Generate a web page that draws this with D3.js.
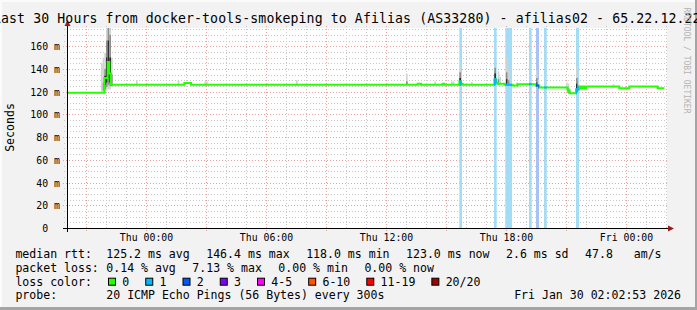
<!DOCTYPE html>
<html>
<head>
<meta charset="utf-8">
<script src="https://cdn.jsdelivr.net/npm/d3@7"></script>
<style>
body { margin:0; background:#f2f2f2; }
svg { display:block; font-family:"DejaVu Sans Mono", monospace; }
.pre { white-space:pre; }
</style>
</head>
<body>
<svg id="chart" width="697" height="310"></svg>
<script>
// ---- data ----
var title = "Last 30 Hours from docker-tools-smokeping to Afilias (AS33280) - afilias02 - 65.22.12.22";
var timeStart = "2026-01-28 20:03";
var timeEnd = "2026-01-30 02:03";
var yMax = 176;
var yTicks = [0, 20, 40, 60, 80, 100, 120, 140, 160];
var yLabel = "Seconds";

// median rtt (ms), step values
var median = [
  ["2026-01-28 20:03", 119],
  ["2026-01-28 21:55", 132],
  ["2026-01-28 22:05", 146],
  ["2026-01-28 22:10", 136],
  ["2026-01-28 22:15", 126],
  ["2026-01-29 01:55", 127.5],
  ["2026-01-29 02:15", 126],
  ["2026-01-29 13:35", 127],
  ["2026-01-29 13:45", 126],
  ["2026-01-29 14:50", 127],
  ["2026-01-29 14:55", 126],
  ["2026-01-29 15:40", 129],
  ["2026-01-29 15:45", 127],
  ["2026-01-29 15:50", 126],
  ["2026-01-29 17:25", 131],
  ["2026-01-29 17:30", 128],
  ["2026-01-29 17:35", 127],
  ["2026-01-29 17:55", 126],
  ["2026-01-29 18:20", 125.4],
  ["2026-01-29 18:35", 126.5],
  ["2026-01-29 19:30", 125.5],
  ["2026-01-29 19:40", 123.6],
  ["2026-01-29 21:05", 121],
  ["2026-01-29 21:10", 118.6],
  ["2026-01-29 21:30", 122.2],
  ["2026-01-29 21:40", 124.5],
  ["2026-01-29 21:45", 123],
  ["2026-01-29 21:50", 124.5],
  ["2026-01-29 21:55", 123],
  ["2026-01-29 22:00", 124.5],
  ["2026-01-29 23:40", 123],
  ["2026-01-30 00:10", 124.5],
  ["2026-01-30 01:35", 123],
  ["2026-01-30 01:55", 123]
];

// samples with packet loss: from, to, lost pings
var lossBands = [
  ["2026-01-29 15:40", "2026-01-29 15:48", 1],
  ["2026-01-29 17:24", "2026-01-29 17:32", 1],
  ["2026-01-29 17:58", "2026-01-29 18:18", 1],
  ["2026-01-29 19:09", "2026-01-29 19:17", 1],
  ["2026-01-29 19:30", "2026-01-29 19:39", 2],
  ["2026-01-29 19:54", "2026-01-29 20:02", 1],
  ["2026-01-29 21:30", "2026-01-29 21:39", 1]
];

// smoke: sample time, then [low, high] ranges from outer to inner
var smoke = [
  ["2026-01-28 21:45", [120, 145]],
  ["2026-01-28 21:50", [120, 150], [121, 128]],
  ["2026-01-28 21:55", [120, 154], [122, 140], [126, 134]],
  ["2026-01-28 22:00", [121, 190], [124, 165], [128, 150]],
  ["2026-01-28 22:05", [122, 190], [126, 176], [132, 165]],
  ["2026-01-28 22:10", [122, 190], [125, 170], [128, 150]],
  ["2026-01-28 22:15", [124, 150], [125, 135]],
  ["2026-01-28 23:30", [126, 130]],
  ["2026-01-29 01:35", [126, 130]],
  ["2026-01-29 02:55", [126, 129]],
  ["2026-01-29 03:00", [126, 129]],
  ["2026-01-29 07:30", [126, 130]],
  ["2026-01-29 13:00", [126, 136], [126, 129]],
  ["2026-01-29 14:25", [126, 129]],
  ["2026-01-29 15:15", [126, 129]],
  ["2026-01-29 15:20", [126, 129]],
  ["2026-01-29 15:40", [124, 140], [125, 137], [126, 132]],
  ["2026-01-29 16:15", [126, 128.5]],
  ["2026-01-29 17:25", [125, 142], [126, 141], [127, 136]],
  ["2026-01-29 17:35", [126, 138], [126, 131]],
  ["2026-01-29 17:40", [126, 133]],
  ["2026-01-29 18:00", [125, 150], [125, 137], [126, 131]],
  ["2026-01-29 18:05", [125, 140], [125, 130]],
  ["2026-01-29 18:30", [125, 128]],
  ["2026-01-29 19:30", [124, 139], [124, 132], [124.5, 128]],
  ["2026-01-29 19:35", [123.6, 130]],
  ["2026-01-29 21:00", [121, 128]],
  ["2026-01-29 21:05", [119, 127], [119, 123]],
  ["2026-01-29 21:10", [118, 122], [118.4, 120]],
  ["2026-01-29 21:30", [118, 142], [119, 132], [120, 127]],
  ["2026-01-29 21:35", [120, 127], [121, 125]],
  ["2026-01-29 23:20", [124.5, 126.5]]
];

var lossLabels = ["0", "1", "2", "3", "4-5", "6-10", "11-19", "20/20"];
var lossColors = ["#26ff00", "#00b8ff", "#0059ff", "#7e00ff", "#ff00ff", "#ff5500", "#ff0000", "#a10000"];
var lossBg = {1: "#a3dcf5", 2: "#a8c2f7"};

var statsRtt = ["125.2 ms avg", "146.4 ms max", "118.0 ms min", "123.0 ms now", "2.6 ms sd", "47.8   am/s"];
var statsLoss = ["0.14 % avg", "7.13 % max", "0.00 % min", "0.00 % now"];
var probeText = "20 ICMP Echo Pings (56 Bytes) every 300s";
var stamp = "Fri Jan 30 02:02:53 2026";
var watermark = "RRDTOOL / TOBI OETIKER";

// ---- drawing ----
var parse = d3.timeParse("%Y-%m-%d %H:%M");
var FIVE = 5 * 60 * 1000;
var W = 697, H = 310;
var pL = 67, pR = 667, pT = 28, pB = 228;

var svg = d3.select("#chart");

var x = d3.scaleTime().domain([parse(timeStart), parse(timeEnd)]).range([pL, pR]);
var y = d3.scaleLinear().domain([0, yMax]).range([pB, pT]);

// background + frame
svg.append("rect").attr("width", W).attr("height", H).attr("fill", "#f2f2f2");
svg.append("rect").attr("x", 0).attr("y", 0).attr("width", W).attr("height", 2).attr("fill", "#fbfbfb");
svg.append("rect").attr("x", 0).attr("y", 0).attr("width", 2).attr("height", H).attr("fill", "#fbfbfb");
svg.append("rect").attr("x", W - 2).attr("y", 0).attr("width", 2).attr("height", H).attr("fill", "#a4a4a4");
svg.append("rect").attr("x", 0).attr("y", H - 3).attr("width", W).attr("height", 3).attr("fill", "#a4a4a4");

svg.append("rect").attr("x", pL).attr("y", pT).attr("width", pR - pL).attr("height", pB - pT).attr("fill", "#fff");

svg.append("clipPath").attr("id", "plotclip")
  .append("rect").attr("x", pL).attr("y", pT).attr("width", pR - pL).attr("height", pB - pT);

// grid
var grid = svg.append("g").attr("shape-rendering", "crispEdges");
var hourTicks = x.ticks(d3.timeHour.every(1));
grid.selectAll(".vmin").data(hourTicks.filter(function(d) { return d.getHours() % 3 != 0; }))
  .enter().append("line")
  .attr("x1", function(d) { return Math.round(x(d)) + 0.5; })
  .attr("x2", function(d) { return Math.round(x(d)) + 0.5; })
  .attr("y1", pT - 2).attr("y2", pB)
  .attr("stroke", "#c8c8c8").attr("stroke-dasharray", "1,2");
var minorY = d3.range(5, yMax, 5).filter(function(d) { return d % 20 != 0; });
grid.selectAll(".hmin").data(minorY)
  .enter().append("line")
  .attr("x1", pL - 3).attr("x2", pR)
  .attr("y1", function(d) { return Math.round(y(d)) + 0.5; })
  .attr("y2", function(d) { return Math.round(y(d)) + 0.5; })
  .attr("stroke", "#c8c8c8").attr("stroke-dasharray", "1,2");
grid.selectAll(".vmaj").data(x.ticks(d3.timeHour.every(3)))
  .enter().append("line")
  .attr("x1", function(d) { return Math.round(x(d)) + 0.5; })
  .attr("x2", function(d) { return Math.round(x(d)) + 0.5; })
  .attr("y1", pT - 2).attr("y2", pB + 3)
  .attr("stroke", "#e9a2a2").attr("stroke-dasharray", "1,2");
grid.selectAll(".hmaj").data(yTicks.filter(function(d) { return d > 0; }))
  .enter().append("line")
  .attr("x1", pL - 4).attr("x2", pR)
  .attr("y1", function(d) { return Math.round(y(d)) + 0.5; })
  .attr("y2", function(d) { return Math.round(y(d)) + 0.5; })
  .attr("stroke", "#e9a2a2").attr("stroke-dasharray", "1,2");

var plot = svg.append("g").attr("clip-path", "url(#plotclip)");

// loss backgrounds
plot.selectAll(".lossbg").data(lossBands)
  .enter().append("rect")
  .attr("x", function(d) { return x(parse(d[0])); })
  .attr("width", function(d) { return x(parse(d[1])) - x(parse(d[0])); })
  .attr("y", pT).attr("height", pB - pT)
  .attr("fill", function(d) { return lossBg[d[2]]; });

// smoke
var shades = ["#d2d2d2", "#8e8e8e", "#2e2e2e"];
smoke.forEach(function(s) {
  var t = parse(s[0]);
  var x0 = x(t), w = x(new Date(+t + FIVE)) - x0;
  s.slice(1).forEach(function(r, i) {
    plot.append("rect")
      .attr("x", x0).attr("width", w)
      .attr("y", y(r[1])).attr("height", y(r[0]) - y(r[1]))
      .attr("fill", shades[i]);
  });
});

// median line
var medPts = median.map(function(d) { return {t: parse(d[0]), v: d[1]}; });
var line = d3.line()
  .x(function(d) { return x(d.t); })
  .y(function(d) { return y(d.v); })
  .curve(d3.curveStepAfter);
plot.append("path").datum(medPts)
  .attr("d", line).attr("fill", "none")
  .attr("stroke", lossColors[0]).attr("stroke-width", 2);

lossBands.forEach(function(b, i) {
  var id = "lossclip" + i;
  svg.append("clipPath").attr("id", id)
    .append("rect")
    .attr("x", x(parse(b[0]))).attr("width", x(parse(b[1])) - x(parse(b[0])))
    .attr("y", pT).attr("height", pB - pT);
  plot.append("g").attr("clip-path", "url(#" + id + ")")
    .append("path").datum(medPts)
    .attr("d", line).attr("fill", "none")
    .attr("stroke", lossColors[b[2]]).attr("stroke-width", 2);
});

// axes
var xAxis = svg.append("g").attr("transform", "translate(0," + pB + ")")
  .call(d3.axisBottom(x).ticks(d3.timeHour.every(6)).tickFormat(d3.timeFormat("%a %H:%M")).tickSize(0).tickPadding(6));
xAxis.select(".domain").remove();
xAxis.selectAll("text").attr("font-size", "9.85px").attr("font-family", "DejaVu Sans Mono").attr("fill", "#000");

var yAxis = svg.append("g").attr("transform", "translate(" + pL + ",0)")
  .call(d3.axisLeft(y).tickValues(yTicks).tickSize(0).tickPadding(7)
    .tickFormat(function(d) { return d == 0 ? "0  " : d + " m"; }));
yAxis.select(".domain").remove();
yAxis.selectAll("text").attr("class", "pre").attr("font-size", "9.85px")
  .attr("font-family", "DejaVu Sans Mono").attr("fill", "#000").attr("dy", "0.36em");

svg.append("line").attr("x1", pL - 4).attr("x2", pR + 2)
  .attr("y1", pB + 0.5).attr("y2", pB + 0.5).attr("stroke", "#000");
svg.append("line").attr("x1", pL + 0.5).attr("x2", pL + 0.5)
  .attr("y1", pB + 4).attr("y2", pT - 3).attr("stroke", "#000");
svg.append("path").attr("d", "M" + (pR + 1) + "," + (pB - 2.5) + "L" + (pR + 7) + "," + (pB + 0.5) + "L" + (pR + 1) + "," + (pB + 3.5) + "Z")
  .attr("fill", "#9a1a1a");
svg.append("path").attr("d", "M" + (pL - 2.5) + "," + (pT - 2) + "L" + (pL + 0.5) + "," + (pT - 8) + "L" + (pL + 3.5) + "," + (pT - 2) + "Z")
  .attr("fill", "#9a1a1a");

// title (wider than the image, cut at both sides like the original)
svg.append("text").attr("x", -7).attr("y", 23.3)
  .attr("font-size", "13.2px").attr("textLength", 707.5).attr("lengthAdjust", "spacing").text(title);

svg.append("text").attr("transform", "translate(14,127.5) rotate(-90)")
  .attr("text-anchor", "middle").attr("font-size", "11.56px").text(yLabel);

svg.append("text").attr("transform", "translate(684.3,7.5) rotate(90)")
  .attr("font-size", "8px").attr("fill", "#b4b4b4").text(watermark);

// legend
var lg = svg.append("g").attr("font-size", "11.56px").attr("fill", "#000");
var col0 = 15.4, col1 = 106.3, gap = 16.5;
var rows = [258.3, 271.8, 285.5, 299];

function chunks(list, yy) {
  var cx = col1;
  list.forEach(function(s) {
    var t = lg.append("text").attr("class", "pre").attr("x", cx).attr("y", yy).text(s);
    cx += t.node().getComputedTextLength() + gap;
  });
}

lg.append("text").attr("x", col0).attr("y", rows[0]).text("median rtt:");
chunks(statsRtt, rows[0]);
lg.append("text").attr("x", col0).attr("y", rows[1]).text("packet loss:");
chunks(statsLoss, rows[1]);

lg.append("text").attr("x", col0).attr("y", rows[2]).text("loss color:");
var sx = 108;
lossLabels.forEach(function(lab, i) {
  lg.append("rect").attr("x", sx + 0.5).attr("y", rows[2] - 7.3).attr("width", 7).attr("height", 7)
    .attr("fill", lossColors[i]).attr("stroke", "#000").attr("stroke-width", 1);
  var t = lg.append("text").attr("x", sx + 14.3).attr("y", rows[2]).text(lab);
  sx = sx + 14.3 + t.node().getComputedTextLength() + 16;
});

lg.append("text").attr("x", col0).attr("y", rows[3]).text("probe:");
lg.append("text").attr("x", col1).attr("y", rows[3]).text(probeText);
lg.append("text").attr("x", 681).attr("y", rows[3]).attr("text-anchor", "end").text(stamp);
</script>
</body>
</html>
